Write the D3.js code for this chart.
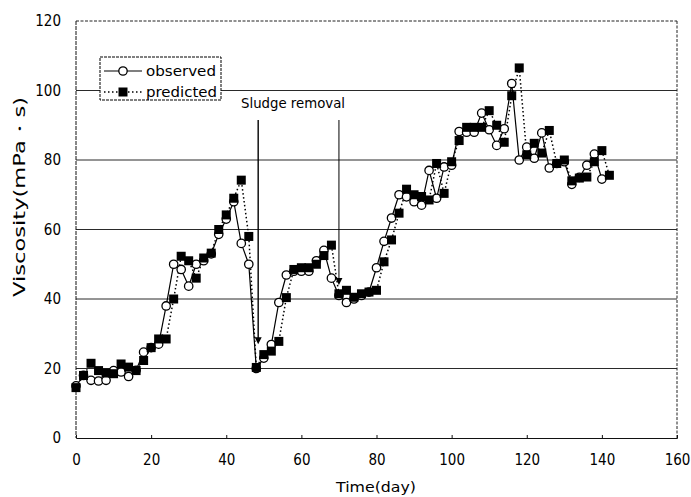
<!DOCTYPE html>
<html>
<head>
<meta charset="utf-8">
<script src="https://cdn.jsdelivr.net/npm/d3@7"></script>
<style>
  html, body { margin: 0; padding: 0; background: #fff; }
  svg { display: block; }
  text { font-family: "DejaVu Sans", "Liberation Sans", sans-serif; fill: #000; }
  .num { font-family: "DejaVu Sans Condensed", "Liberation Sans Narrow", "DejaVu Sans", sans-serif; }
</style>
</head>
<body>
<svg id="chart" width="691" height="497"></svg>
<script>
// Sampling days (every 2 days)
const obsDays = d3.range(0, 141, 2);
const predDays = d3.range(0, 143, 2);

// Observed viscosity (mPa·s)
const observed = [
  15, 18, 16.6, 16.4, 16.6, 19.4, 19, 17.7, 19.5, 24.7,
  26, 27, 38, 50, 48.5, 43.7, 50, 51, 53, 58.6,
  63, 68, 56, 50, 20, 23, 26.9, 39, 46.9, 48,
  48, 48, 51, 54, 46, 41, 39, 40, 41, 42,
  49, 56.6, 63.3, 70, 69.4, 68, 67, 77, 69, 78,
  78.5, 88.2, 88, 88, 93.5, 88.7, 84.2, 89, 102, 80,
  83.7, 80.5, 87.8, 77.7, 79, 79.5, 73, 75, 78.5, 81.7,
  74.5
];

// Predicted viscosity (mPa·s)
const predicted = [
  14.5, 18, 21.5, 19.4, 18.7, 18.5, 21.3, 20.4, 19.4, 22.3,
  26, 28.5, 28.5, 40, 52.3, 51, 46, 51.8, 53.2, 60,
  64.2, 69, 74.2, 58, 20.3, 24, 25, 27.8, 40.4, 48.5,
  49, 49, 50, 52.5, 55.5, 41.5, 42.5, 40.5, 41.5, 42,
  42.5, 50.7, 57, 64.7, 71.6, 70, 69.5, 68.5, 79, 70.4,
  79.5, 85.6, 89.4, 89.4, 89.4, 94.2, 90, 85.1, 98.5, 106.5,
  81.5, 84.8, 82, 88.5, 79, 80, 74, 74.8, 75.1, 79.5,
  82.7, 75.6
];

// Sludge removal events: day and the level where the arrow ends
const removalDays = [48.5, 70];
const removalArrowEnds = [27, 44];

const xTicks = [0, 20, 40, 60, 80, 100, 120, 140, 160];
const yTicks = [0, 20, 40, 60, 80, 100, 120];
const gridValues = [20, 40, 60, 80, 100];

const svg = d3.select("#chart");
const x = d3.scaleLinear().domain([0, 160]).range([76, 677]);
const y = d3.scaleLinear().domain([0, 120]).range([438, 21]);

// Horizontal grid lines
svg.append("g").selectAll("line").data(gridValues).join("line")
  .attr("x1", x(0)).attr("x2", x(160))
  .attr("y1", d => y(d)).attr("y2", d => y(d))
  .attr("stroke", "#2a2a2a").attr("stroke-width", 1);

// Frame: dashed top and right, left axis, bottom axis
svg.append("line").attr("x1", x(0)).attr("x2", x(160)).attr("y1", y(120)).attr("y2", y(120))
  .attr("stroke", "#222").attr("stroke-dasharray", "3,1.5");
svg.append("line").attr("x1", x(160)).attr("x2", x(160)).attr("y1", y(120)).attr("y2", y(0))
  .attr("stroke", "#222").attr("stroke-dasharray", "3,1.5");
svg.append("line").attr("x1", x(0)).attr("x2", x(0)).attr("y1", y(120)).attr("y2", y(0))
  .attr("stroke", "#111").attr("stroke-dasharray", "4,1");

// Bottom axis with short inward ticks
const xAxis = d3.axisBottom(x).tickValues(xTicks).tickSize(-3).tickPadding(16).tickFormat(d3.format("d"));
const gx = svg.append("g").attr("transform", `translate(0,${y(0)})`).call(xAxis);
gx.select(".domain").attr("stroke", "#111");
gx.selectAll(".tick line").attr("stroke", "#111");
gx.selectAll("text").attr("class", "num").attr("font-size", 15).attr("font-family", null);

// Left axis labels
const yAxis = d3.axisLeft(y).tickValues(yTicks).tickSize(0).tickPadding(15).tickFormat(d3.format("d"));
const gy = svg.append("g").attr("transform", `translate(${x(0)},0)`).call(yAxis);
gy.select(".domain").remove();
gy.selectAll("text").attr("class", "num").attr("font-size", 15).attr("font-family", null);

// Axis titles
svg.append("text").attr("x", 376).attr("y", 492).attr("text-anchor", "middle")
  .attr("font-size", 14).attr("textLength", 80).attr("lengthAdjust", "spacingAndGlyphs")
  .text("Time(day)");
svg.append("text").attr("transform", "translate(25,197) rotate(-90)").attr("text-anchor", "middle")
  .attr("font-size", 15).attr("textLength", 200).attr("lengthAdjust", "spacingAndGlyphs")
  .text("Viscosity(mPa・s)");

// Sludge removal annotation
const arrows = svg.append("g");
removalDays.forEach((d, i) => {
  const xp = x(d), yEnd = y(removalArrowEnds[i]);
  arrows.append("line").attr("x1", xp).attr("x2", xp).attr("y1", 120).attr("y2", yEnd - 6)
    .attr("stroke", "#000").attr("stroke-width", i === 0 ? 1.4 : 1);
  arrows.append("path")
    .attr("d", `M${xp - 3.5},${yEnd - 7} L${xp + 3.5},${yEnd - 7} L${xp},${yEnd} Z`)
    .attr("fill", "#000");
});
svg.append("text").attr("x", 241).attr("y", 108)
  .attr("font-size", 14).attr("textLength", 104).attr("lengthAdjust", "spacingAndGlyphs")
  .text("Sludge removal");

// Series lines
const obsPts = obsDays.map((d, i) => [d, observed[i]]);
const predPts = predDays.map((d, i) => [d, predicted[i]]);
const line = d3.line().x(d => x(d[0])).y(d => y(d[1]));

svg.append("path").datum(predPts).attr("d", line)
  .attr("fill", "none").attr("stroke", "#000").attr("stroke-width", 1.5)
  .attr("stroke-dasharray", "1.5,2.5");
svg.append("path").datum(obsPts).attr("d", line)
  .attr("fill", "none").attr("stroke", "#000").attr("stroke-width", 1.2);

// Markers: observed circles, predicted squares
svg.append("g").selectAll("circle").data(obsPts).join("circle")
  .attr("cx", d => x(d[0])).attr("cy", d => y(d[1])).attr("r", 4.2)
  .attr("fill", "#fff").attr("stroke", "#000").attr("stroke-width", 1.3);
svg.append("g").selectAll("rect").data(predPts).join("rect")
  .attr("x", d => x(d[0]) - 4.5).attr("y", d => y(d[1]) - 4.5)
  .attr("width", 9).attr("height", 9).attr("fill", "#000");

// Legend
const lg = svg.append("g");
lg.append("rect").attr("x", 100).attr("y", 57).attr("width", 121).attr("height", 43)
  .attr("fill", "#fff").attr("stroke", "#000").attr("stroke-width", 1).attr("stroke-dasharray", "3,1");
lg.append("line").attr("x1", 104).attr("x2", 142).attr("y1", 71).attr("y2", 71)
  .attr("stroke", "#000").attr("stroke-width", 1.2);
lg.append("circle").attr("cx", 123).attr("cy", 71).attr("r", 4.2)
  .attr("fill", "#fff").attr("stroke", "#000").attr("stroke-width", 1.3);
lg.append("text").attr("x", 146).attr("y", 76).attr("font-size", 14)
  .attr("textLength", 70).attr("lengthAdjust", "spacingAndGlyphs").text("observed");
lg.append("line").attr("x1", 104).attr("x2", 142).attr("y1", 92).attr("y2", 92)
  .attr("stroke", "#000").attr("stroke-width", 1.5).attr("stroke-dasharray", "1.5,2.5");
lg.append("rect").attr("x", 118.5).attr("y", 87.5).attr("width", 9).attr("height", 9).attr("fill", "#000");
lg.append("text").attr("x", 146).attr("y", 97).attr("font-size", 14)
  .attr("textLength", 71).attr("lengthAdjust", "spacingAndGlyphs").text("predicted");
</script>
</body>
</html>
